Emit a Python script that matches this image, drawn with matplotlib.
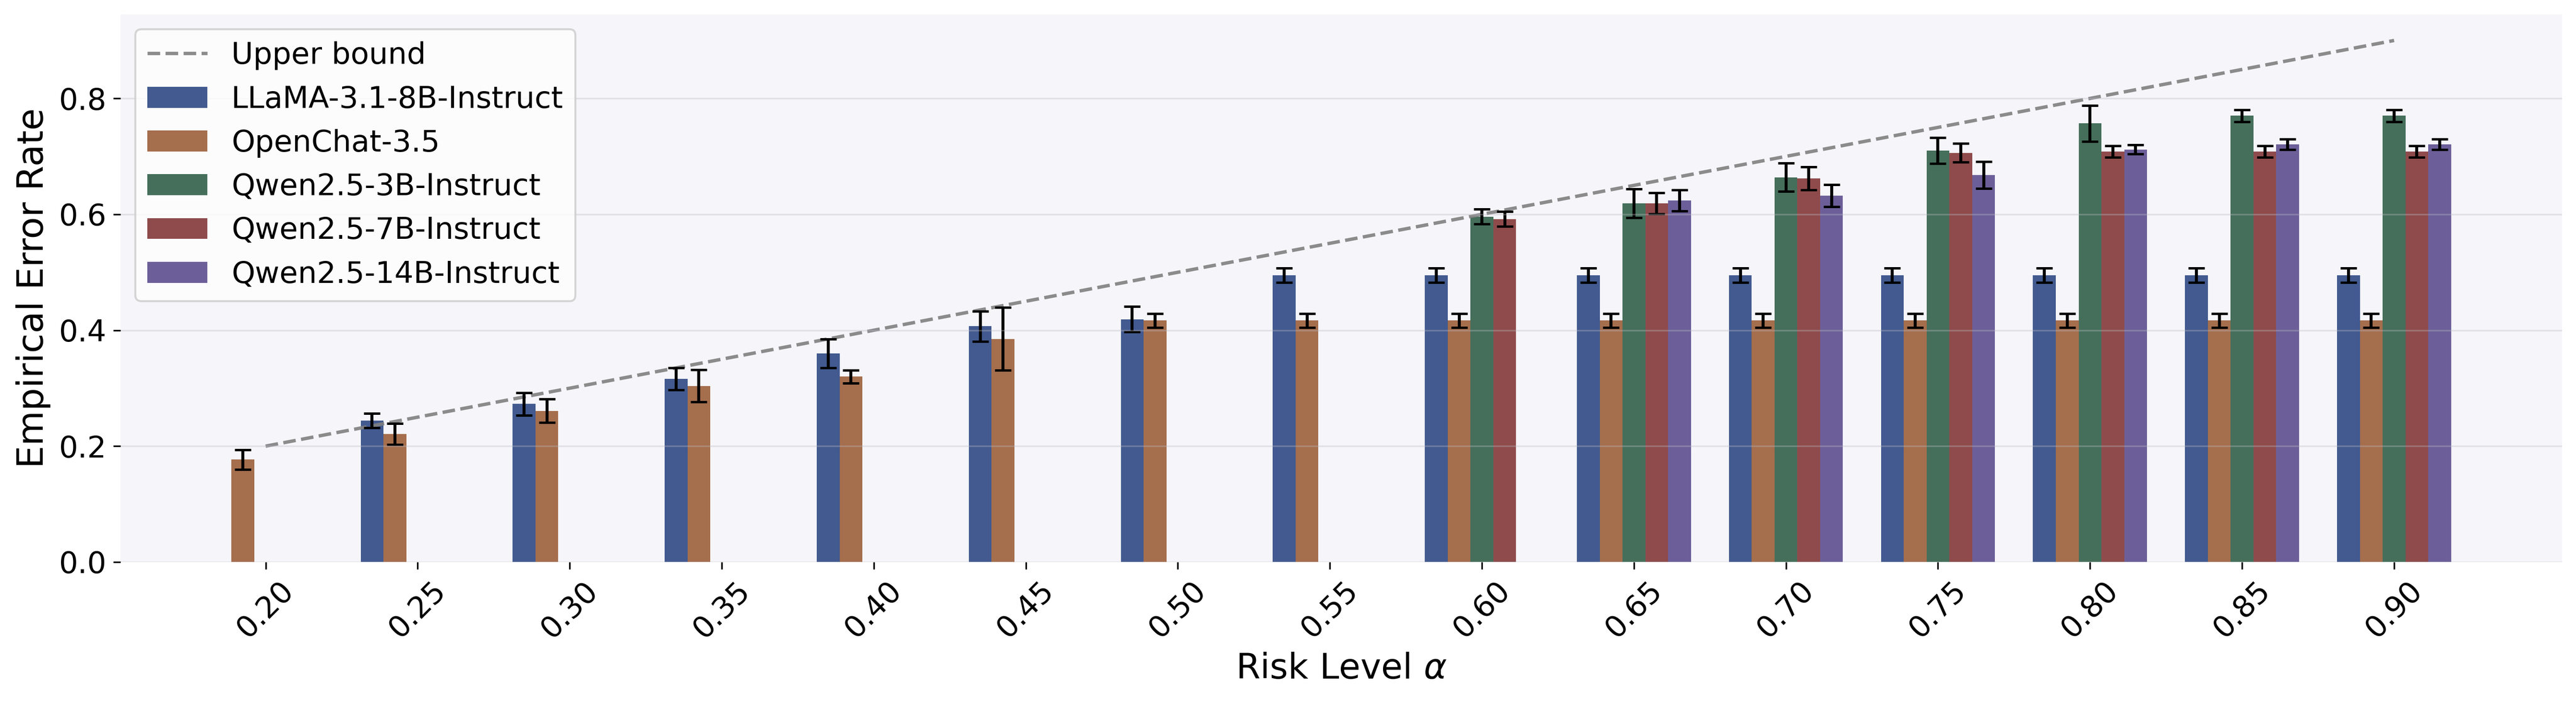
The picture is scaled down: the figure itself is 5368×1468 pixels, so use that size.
import numpy as np
import matplotlib
matplotlib.use('Agg')
import matplotlib.pyplot as plt

# risk levels on the x axis (also the upper bound)
alphas = [0.20, 0.25, 0.30, 0.35, 0.40, 0.45, 0.50, 0.55, 0.60, 0.65, 0.70, 0.75, 0.80, 0.85, 0.90]
nan = np.nan

models = ['LLaMA-3.1-8B-Instruct', 'OpenChat-3.5', 'Qwen2.5-3B-Instruct',
          'Qwen2.5-7B-Instruct', 'Qwen2.5-14B-Instruct']
colors = ['#425a8f', '#a56e4d', '#456f5b', '#8f4b4c', '#6c5f99']

llama = [nan, 0.244, 0.273, 0.316, 0.360, 0.407, 0.419, 0.495, 0.495, 0.495, 0.495, 0.495, 0.495, 0.495, 0.495]
llama_err = [nan, 0.0125, 0.0195, 0.019, 0.025, 0.026, 0.022, 0.0125, 0.0125, 0.0125, 0.0125, 0.0125, 0.0125, 0.0125, 0.0125]

openchat = [0.177, 0.221, 0.261, 0.304, 0.320, 0.385, 0.417, 0.417, 0.417, 0.417, 0.417, 0.417, 0.417, 0.417, 0.417]
openchat_err = [0.017, 0.018, 0.0205, 0.028, 0.011, 0.054, 0.012, 0.012, 0.012, 0.012, 0.012, 0.012, 0.012, 0.012, 0.012]

qwen3 = [nan]*8 + [0.596, 0.619, 0.664, 0.710, 0.757, 0.770, 0.770]
qwen3_err = [nan]*8 + [0.013, 0.025, 0.0245, 0.022, 0.031, 0.0105, 0.0105]

qwen7 = [nan]*8 + [0.592, 0.619, 0.662, 0.706, 0.708, 0.708, 0.708]
qwen7_err = [nan]*8 + [0.0126, 0.018, 0.0195, 0.016, 0.010, 0.010, 0.010]

qwen14 = [nan]*9 + [0.624, 0.632, 0.668, 0.712, 0.721, 0.721]
qwen14_err = [nan]*9 + [0.018, 0.019, 0.023, 0.008, 0.009, 0.009]

means = [llama, openchat, qwen3, qwen7, qwen14]
errs = [llama_err, openchat_err, qwen3_err, qwen7_err, qwen14_err]

fig = plt.figure(figsize=(5368/300, 1468/300), dpi=300)
ax = fig.add_axes([251/5368, 1 - 1172/1468, (5339-251)/5368, (1172-30)/1468])
ax.set_facecolor('#f5f5fa')
for s in ax.spines.values():
    s.set_visible(False)

x = np.arange(len(alphas))
width = 0.15

ax.plot(x, alphas, '--', color='gray', alpha=0.9, lw=1.7, label='Upper bound')

for j in range(len(models)):
    m = np.array(means[j])
    e = np.array(errs[j])
    ok = ~np.isnan(m)
    ax.bar(x[ok] + (j - 2)*width, m[ok], width, yerr=e[ok], color=colors[j],
           label=models[j], capsize=4,
           error_kw=dict(ecolor='black', elinewidth=1.5, capthick=1.2))

ax.set_axisbelow(False)
ax.grid(axis='y', color='#bbbbc3', alpha=0.35, lw=0.8)
ax.set_xticks(x)
ax.set_xticklabels(['%.2f' % a for a in alphas], rotation=45)
ax.tick_params(labelsize=15, color='black')
ax.set_xlabel(r'Risk Level $\alpha$', fontsize=17.5)
ax.set_ylabel('Empirical Error Rate', fontsize=18)
ax.legend(loc='upper left', fontsize=15)

fig.savefig('out.png', dpi=300)
